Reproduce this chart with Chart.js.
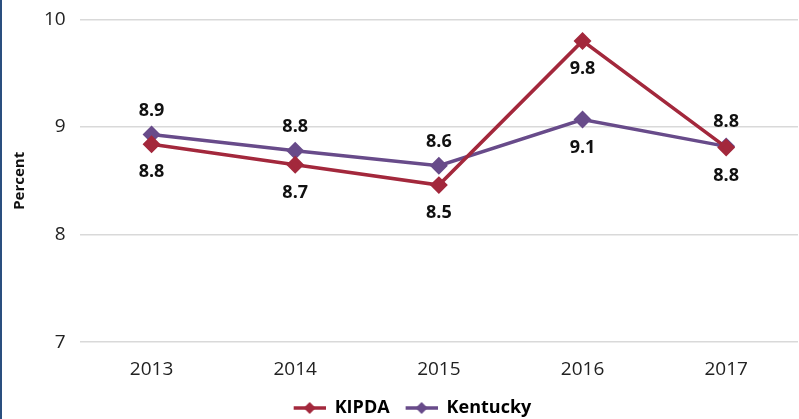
<!DOCTYPE html>
<html>
<head>
<meta charset="utf-8">
<script src="https://cdn.jsdelivr.net/npm/chart.js@4/dist/chart.umd.min.js"></script>
<style>
  html, body { margin: 0; padding: 0; background: #fff; overflow: hidden; }
  #wrap { position: relative; width: 799px; height: 419px; border-left: 2px solid #2a4f7f; box-sizing: border-box; overflow: hidden; }
  #box { position: absolute; left: -2px; top: -6px; width: 808px; height: 433px; }
</style>
</head>
<body>
<div id="wrap"><div id="box"><canvas id="chart"></canvas></div></div>
<script>
const years = ['2013', '2014', '2015', '2016', '2017'];
const kipda = [8.84, 8.65, 8.46, 9.80, 8.81];
const kentucky = [8.93, 8.78, 8.64, 9.07, 8.82];
const yTicks = [7, 8, 9, 10];

// where each data label sits relative to its point
const kipdaLabelPos = ['below', 'below', 'below', 'below', 'below'];
const kentuckyLabelPos = ['above', 'above', 'above', 'below', 'above'];

const FONT = "'Open Sans', 'DejaVu Sans', sans-serif";

// legend marker: short line with a diamond in the middle (blank lead-in for spacing)
function legendMark(color) {
  const c = document.createElement('canvas');
  c.width = 38; c.height = 14;
  const g = c.getContext('2d');
  g.strokeStyle = color; g.lineWidth = 3.5;
  g.beginPath(); g.moveTo(6, 7); g.lineTo(38, 7); g.stroke();
  g.fillStyle = color;
  g.beginPath(); g.moveTo(22, 1); g.lineTo(28, 7); g.lineTo(22, 13); g.lineTo(16, 7); g.closePath(); g.fill();
  return c;
}

const valueLabels = {
  id: 'valueLabels',
  afterDatasetsDraw(chart) {
    const ctx = chart.ctx;
    ctx.save();
    ctx.font = 'bold 18px ' + FONT;
    ctx.fillStyle = '#111';
    ctx.textAlign = 'center';
    ctx.textBaseline = 'middle';
    chart.data.datasets.forEach((ds, i) => {
      const meta = chart.getDatasetMeta(i);
      meta.data.forEach((pt, j) => {
        const below = ds.labelPos[j] === 'below';
        const dy = below ? 28 : -24;
        ctx.fillText(ds.data[j].toFixed(1), pt.x, pt.y + dy);
      });
    });
    ctx.restore();
  }
};

new Chart(document.getElementById('chart'), {
  type: 'line',
  data: {
    labels: years,
    datasets: [
      {
        label: 'KIPDA', data: kipda, labelPos: kipdaLabelPos,
        borderColor: '#a3283c', backgroundColor: '#a3283c',
        borderWidth: 3.5, pointStyle: 'rectRot', pointRadius: 6.5, pointHoverRadius: 6.5,
        tension: 0,
      },
      {
        label: 'Kentucky', data: kentucky, labelPos: kentuckyLabelPos,
        borderColor: '#684b8a', backgroundColor: '#684b8a',
        borderWidth: 3.5, pointStyle: 'rectRot', pointRadius: 6.5, pointHoverRadius: 6.5,
        tension: 0,
      },
    ],
  },
  options: {
    responsive: true,
    maintainAspectRatio: false,
    animation: false,
    layout: { padding: { top: 0, right: 0, bottom: 0, left: 11 } },
    scales: {
      x: {
        offset: true,
        grid: { display: false },
        border: { display: false },
        ticks: { color: '#222', font: { family: FONT, size: 19 }, padding: 8 },
      },
      y: {
        min: 7, max: 10,
        afterBuildTicks: axis => { axis.ticks = yTicks.map(v => ({ value: v })); },
        grid: { color: '#d9d9d9', lineWidth: 1.5, drawTicks: false },
        border: { display: false },
        ticks: { color: '#222', font: { family: FONT, size: 19 }, padding: 14 },
        title: { display: true, text: 'Percent', color: '#111', font: { family: FONT, size: 15, weight: 'bold' }, padding: { top: 0, bottom: 1 } },
      },
    },
    plugins: {
      legend: {
        position: 'bottom',
        labels: {
          usePointStyle: true,
          pointStyleWidth: 38,
          color: '#111',
          font: { family: FONT, size: 18, weight: 'bold' },
          padding: 10,
          generateLabels: chart => chart.data.datasets.map((ds, i) => ({
            text: ds.label,
            fillStyle: ds.borderColor,
            strokeStyle: ds.borderColor,
            lineWidth: 0,
            pointStyle: legendMark(ds.borderColor),
            datasetIndex: i,
          })),
        },
      },
      tooltip: { enabled: false },
    },
  },
  plugins: [valueLabels],
});
</script>
</body>
</html>
